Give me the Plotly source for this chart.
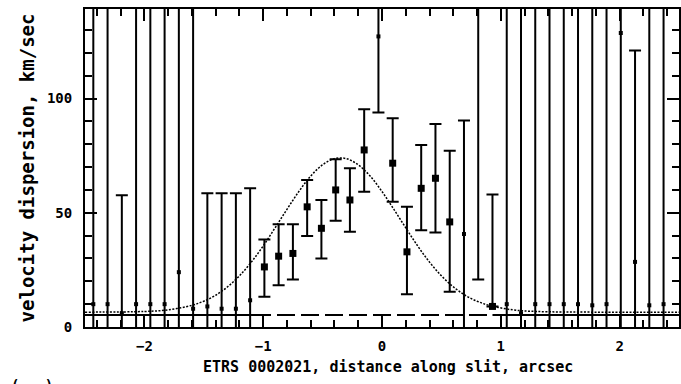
import plotly.graph_objects as go

# ---- data ----
x_pos = [-2.43, -2.31, -2.19, -2.07, -1.95, -1.83, -1.71, -1.59, -1.47, -1.35,
         -1.23, -1.11, -0.99, -0.87, -0.75, -0.63, -0.51, -0.39, -0.27, -0.15,
         -0.03, 0.09, 0.21, 0.33, 0.45, 0.57, 0.69, 0.81, 0.93, 1.05,
         1.17, 1.29, 1.41, 1.53, 1.65, 1.77, 1.89, 2.01, 2.13, 2.25, 2.37]
sigma = [10, 10, 6, 10, 10, 10, 24, 8, 9, 8,
         8, 11.7, 26.3, 31, 32.2, 52.6, 43.2, 60, 55.6, 77.5,
         127.2, 71.7, 32.9, 60.7, 65.1, 46, 40.7, 160, 9, 10,
         6, 10, 10, 10, 10, 9.5, 10, 128.7, 28.5, 9.5, 10]
upper = [300, 300, 57.7, 300, 300, 300, 300, 300, 58.6, 58.6,
         58.6, 60.7, 38.3, 45, 45, 64.3, 55.6, 73.4, 69.5, 95.3,
         300, 91.4, 52.6, 79.7, 88.9, 77.2, 90.4, 300, 58, 300,
         300, 300, 300, 300, 300, 300, 300, 300, 121, 300, 300]
lower = [-50, -50, -50, -50, -50, -50, -50, -50, -50, -50,
         -50, -50, 13.2, 18.3, 20.8, 39.8, 30, 46.5, 41.7, 59.2,
         93.9, 54.8, 14.3, 42.4, 41.4, 15.4, -50, 20.8, 9, -50,
         -50, -50, -50, -50, -50, -50, -50, -50, -50, -50, -50]

# model curve (dotted)
curve_x = [-2.5, -2.0, -1.8, -1.6, -1.5, -1.4, -1.3, -1.2, -1.1, -1.0, -0.9, -0.8,
           -0.7, -0.6, -0.5, -0.4, -0.3, -0.2, -0.1, 0.0, 0.1, 0.2, 0.3, 0.4,
           0.5, 0.6, 0.7, 0.8, 0.9, 1.1, 1.3, 1.8, 2.5]
curve_y = [6.5, 6.8, 7.5, 9.5, 11.3, 13.9, 17.6, 22.4, 28.4, 35.5, 43.4, 51.5,
           59.3, 66.1, 71.0, 73.7, 73.7, 71.0, 66.1, 59.3, 51.5, 43.4, 35.5, 28.4,
           22.4, 17.6, 13.9, 11.3, 9.5, 7.5, 6.8, 6.5, 6.5]

base_level = 5.2
base_solid_left = [-2.5, -1.0]
base_solid_right = [0.93, 2.5]

x_ticks = [-2, -1, 0, 1, 2]
y_ticks = [0, 50, 100]

err_p = [u - v for u, v in zip(upper, sigma)]
err_m = [v - l for v, l in zip(sigma, lower)]

good = [i for i in range(len(x_pos)) if upper[i] < 200 and lower[i] > -10]
poor = [i for i in range(len(x_pos)) if i not in good]

fig = go.Figure()

# dashed baseline
fig.add_trace(go.Scatter(x=[-2.5, 2.5], y=[base_level, base_level], mode="lines",
                         line=dict(color="black", width=2, dash="18px,6px"),
                         hoverinfo="skip", showlegend=False))
for seg in (base_solid_left, base_solid_right):
    fig.add_trace(go.Scatter(x=seg, y=[base_level, base_level], mode="lines",
                             line=dict(color="black", width=2),
                             hoverinfo="skip", showlegend=False))

# model curve
fig.add_trace(go.Scatter(x=curve_x, y=curve_y, mode="lines",
                         line=dict(color="black", width=1.5, dash="2px,1.5px", shape="spline"),
                         hoverinfo="skip", showlegend=False))

for idx, msize in ((poor, 4), (good, 7)):
    fig.add_trace(go.Scatter(
        x=[x_pos[i] for i in idx], y=[sigma[i] for i in idx], mode="markers",
        marker=dict(symbol="square", size=msize, color="black"),
        error_y=dict(type="data", symmetric=False,
                     array=[err_p[i] for i in idx], arrayminus=[err_m[i] for i in idx],
                     color="black", thickness=2, width=6),
        showlegend=False))

font = "DejaVu Sans Mono"
axis_common = dict(showline=True, linecolor="black", linewidth=2, mirror="allticks",
                   ticks="inside", tickcolor="black", tickwidth=1.5, ticklen=12,
                   showgrid=False, zeroline=False,
                   tickfont=dict(family=font, size=14, color="black", weight="bold"))

fig.update_xaxes(range=[-2.5, 2.5], tickvals=x_ticks, ticklabelstandoff=5,
                 minor=dict(dtick=0.2, tick0=0, ticks="inside", ticklen=7,
                            tickcolor="black", tickwidth=1.5),
                 **axis_common)
fig.update_yaxes(range=[0, 139.2], tickvals=y_ticks, ticklabelstandoff=8,
                 minor=dict(dtick=10, tick0=0, ticks="inside", ticklen=7,
                            tickcolor="black", tickwidth=1.5),
                 **axis_common)

fig.update_layout(
    width=681, height=384,
    margin=dict(l=85, r=0, t=9, b=57),
    paper_bgcolor="white", plot_bgcolor="white",
    annotations=[
        dict(text="ETRS 0002021, distance along slit, arcsec", xref="paper", yref="paper",
             x=0.51, y=-0.092, xanchor="center", yanchor="top", showarrow=False,
             font=dict(family=font, size=15, color="black", weight="bold")),
        dict(text="velocity dispersion, km/sec", xref="paper", yref="paper",
             x=-0.097, y=0.5, xanchor="center", yanchor="middle", textangle=-90,
             showarrow=False,
             font=dict(family=font, size=19, color="black", weight="bold")),
        dict(text="(   )", xref="paper", yref="paper", x=-0.09, y=-0.15,
             xanchor="center", yanchor="top", showarrow=False,
             font=dict(family=font, size=14, color="black", weight="bold")),
    ],
)

fig.write_html("out.html")
